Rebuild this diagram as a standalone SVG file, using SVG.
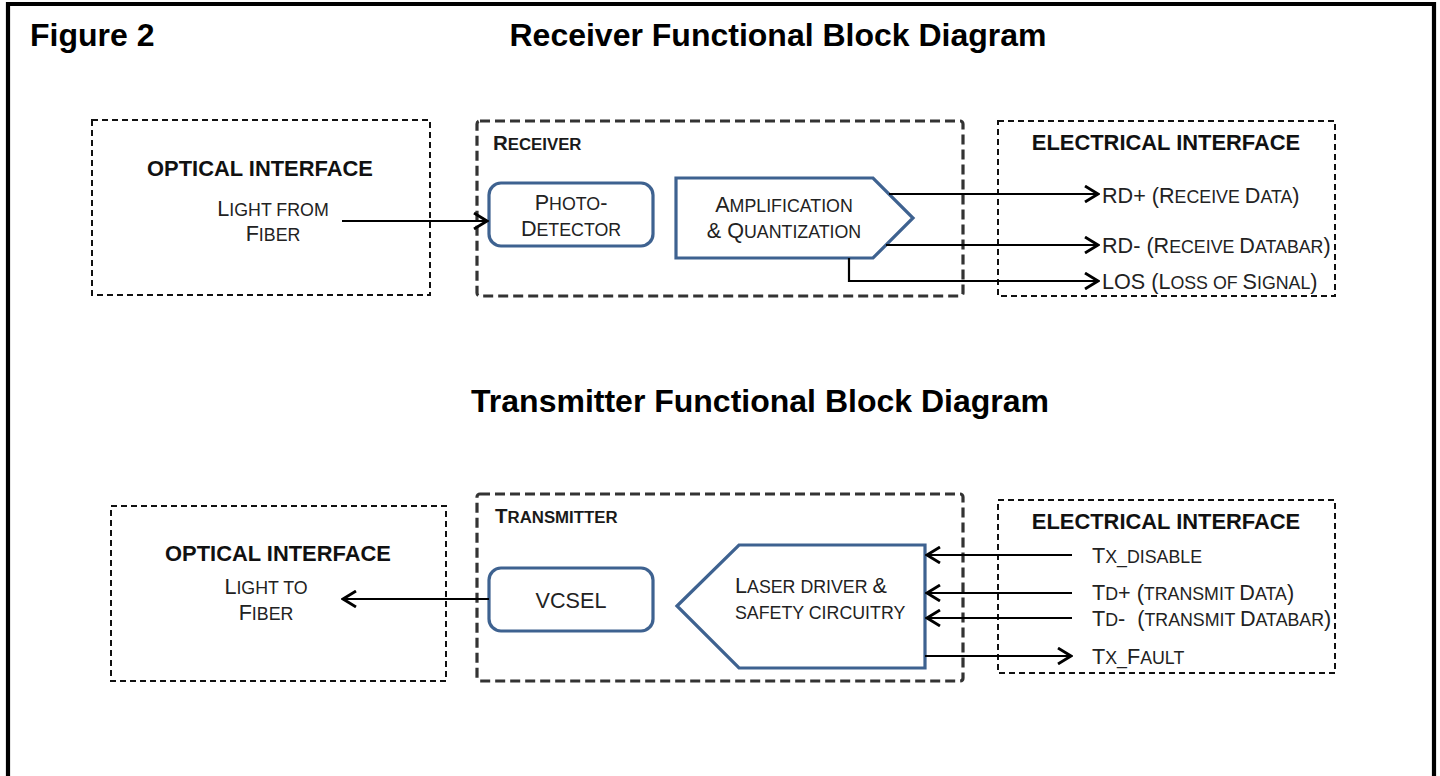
<svg xmlns="http://www.w3.org/2000/svg" width="1440" height="776" viewBox="0 0 1440 776">
<defs>
<style>
text{font-family:"Liberation Sans",Arial,sans-serif;fill:#222}
.title{font-size:32px;font-weight:bold;fill:#000}
.hdr{font-size:21.9px;font-weight:bold;fill:#111}
.lbl{font-size:21.6px}
.s{font-size:17.8px}
.blk{font-size:20.5px;font-weight:bold;fill:#1a1a1a}
.blk .s{font-size:16.8px}
.thin{fill:none;stroke:#111;stroke-width:2;stroke-dasharray:6 4}
.thick{fill:none;stroke:#333;stroke-width:3.2;stroke-dasharray:10 5}
.node{fill:#fff;stroke:#3e6290;stroke-width:3.2}
.wire{fill:none;stroke:#000;stroke-width:2.2}
</style>
<marker id="arr" markerUnits="userSpaceOnUse" viewBox="-15 -9 17 18" markerWidth="17" markerHeight="18" refX="0" refY="0" orient="auto">
<path d="M-13,-8 L0,0 L-13,8" fill="none" stroke="#000" stroke-width="2.8" stroke-linejoin="miter"/>
</marker>
</defs>
<rect width="1440" height="776" fill="#fff"/>
<path d="M8,790 V4 H1434 V790" fill="none" stroke="#000" stroke-width="4.2"/>

<text class="title" x="30" y="46">Figure 2</text>
<text class="title" x="778" y="46" text-anchor="middle">Receiver Functional Block Diagram</text>
<text class="title" x="760" y="412" text-anchor="middle">Transmitter Functional Block Diagram</text>

<!-- Receiver section -->
<g id="rx-optical">
<rect class="thin" x="92" y="120" width="338" height="175"/>
<text class="hdr" x="260" y="176" text-anchor="middle">OPTICAL INTERFACE</text>
<text class="lbl" x="273" y="216" text-anchor="middle">L<tspan class="s">IGHT FROM</tspan></text>
<text class="lbl" x="273" y="241" text-anchor="middle">F<tspan class="s">IBER</tspan></text>
</g>
<g id="rx-receiver">
<rect class="thick" x="477" y="121" width="486" height="175" rx="3"/>
<text class="blk" x="493" y="150">R<tspan class="s">ECEIVER</tspan></text>
</g>
<g id="rx-photodetector">
<rect class="node" x="489" y="183" width="164" height="63" rx="12"/>
<text class="lbl" x="571" y="210" text-anchor="middle">P<tspan class="s">HOTO</tspan>-</text>
<text class="lbl" x="571" y="236" text-anchor="middle">D<tspan class="s">ETECTOR</tspan></text>
</g>
<g id="rx-amplifier">
<path class="node" d="M676,178 H873 L913,218 L873,258 H676 Z"/>
<text class="lbl" x="784" y="212" text-anchor="middle">A<tspan class="s">MPLIFICATION</tspan></text>
<text class="lbl" x="784" y="238" text-anchor="middle">&amp; Q<tspan class="s">UANTIZATION</tspan></text>
</g>
<g id="rx-electrical">
<rect class="thin" x="998" y="121" width="337" height="175"/>
<text class="hdr" x="1166" y="150" text-anchor="middle">ELECTRICAL INTERFACE</text>
<text class="lbl" x="1102" y="203">RD+ (R<tspan class="s">ECEIVE </tspan>D<tspan class="s">ATA</tspan>)</text>
<text class="lbl" x="1102" y="253">RD- (R<tspan class="s">ECEIVE </tspan>D<tspan class="s">ATABAR</tspan>)</text>
<text class="lbl" x="1102" y="289">LOS (L<tspan class="s">OSS OF </tspan>S<tspan class="s">IGNAL</tspan>)</text>
</g>

<!-- Transmitter section -->
<g id="tx-optical">
<rect class="thin" x="111" y="506" width="335" height="175"/>
<text class="hdr" x="278" y="561" text-anchor="middle">OPTICAL INTERFACE</text>
<text class="lbl" x="266" y="594" text-anchor="middle">L<tspan class="s">IGHT TO</tspan></text>
<text class="lbl" x="266" y="620" text-anchor="middle">F<tspan class="s">IBER</tspan></text>
</g>
<g id="tx-transmitter">
<rect class="thick" x="477" y="494" width="486" height="187" rx="3"/>
<text class="blk" x="495" y="523">T<tspan class="s">RANSMITTER</tspan></text>
</g>
<g id="tx-vcsel">
<rect class="node" x="489" y="568" width="164" height="63" rx="12"/>
<text class="lbl" x="571" y="608" text-anchor="middle">VCSEL</text>
</g>
<g id="tx-driver">
<path class="node" d="M677,606 L739,545 H925 V668 H739 Z"/>
<text class="lbl" x="735" y="593">L<tspan class="s">ASER DRIVER </tspan>&amp;</text>
<text class="lbl" x="735" y="619"><tspan class="s">SAFETY CIRCUITRY</tspan></text>
</g>
<g id="tx-electrical">
<rect class="thin" x="998" y="500" width="337" height="173"/>
<text class="hdr" x="1166" y="529" text-anchor="middle">ELECTRICAL INTERFACE</text>
<text class="lbl" x="1092" y="563">T<tspan class="s">X_DISABLE</tspan></text>
<text class="lbl" x="1092" y="600">T<tspan class="s">D</tspan>+ (<tspan class="s">TRANSMIT </tspan>D<tspan class="s">ATA</tspan>)</text>
<text class="lbl" x="1092" y="626" xml:space="preserve">T<tspan class="s">D</tspan>-  (<tspan class="s">TRANSMIT </tspan>D<tspan class="s">ATABAR</tspan>)</text>
<text class="lbl" x="1092" y="664">T<tspan class="s">X_</tspan>F<tspan class="s">AULT</tspan></text>
</g>

<g id="connectors">
<path class="wire" d="M342,221 H487" marker-end="url(#arr)"/>
<path class="wire" d="M889,194 H1098" marker-end="url(#arr)"/>
<path class="wire" d="M886,245 H1098" marker-end="url(#arr)"/>
<path class="wire" d="M849,258 V281 H1098" marker-end="url(#arr)"/>
<path class="wire" d="M489,599 H343" marker-end="url(#arr)"/>
<path class="wire" d="M1072,555 H927" marker-end="url(#arr)"/>
<path class="wire" d="M1072,593 H927" marker-end="url(#arr)"/>
<path class="wire" d="M1072,618 H927" marker-end="url(#arr)"/>
<path class="wire" d="M925,656 H1071" marker-end="url(#arr)"/>
</g>
</svg>
